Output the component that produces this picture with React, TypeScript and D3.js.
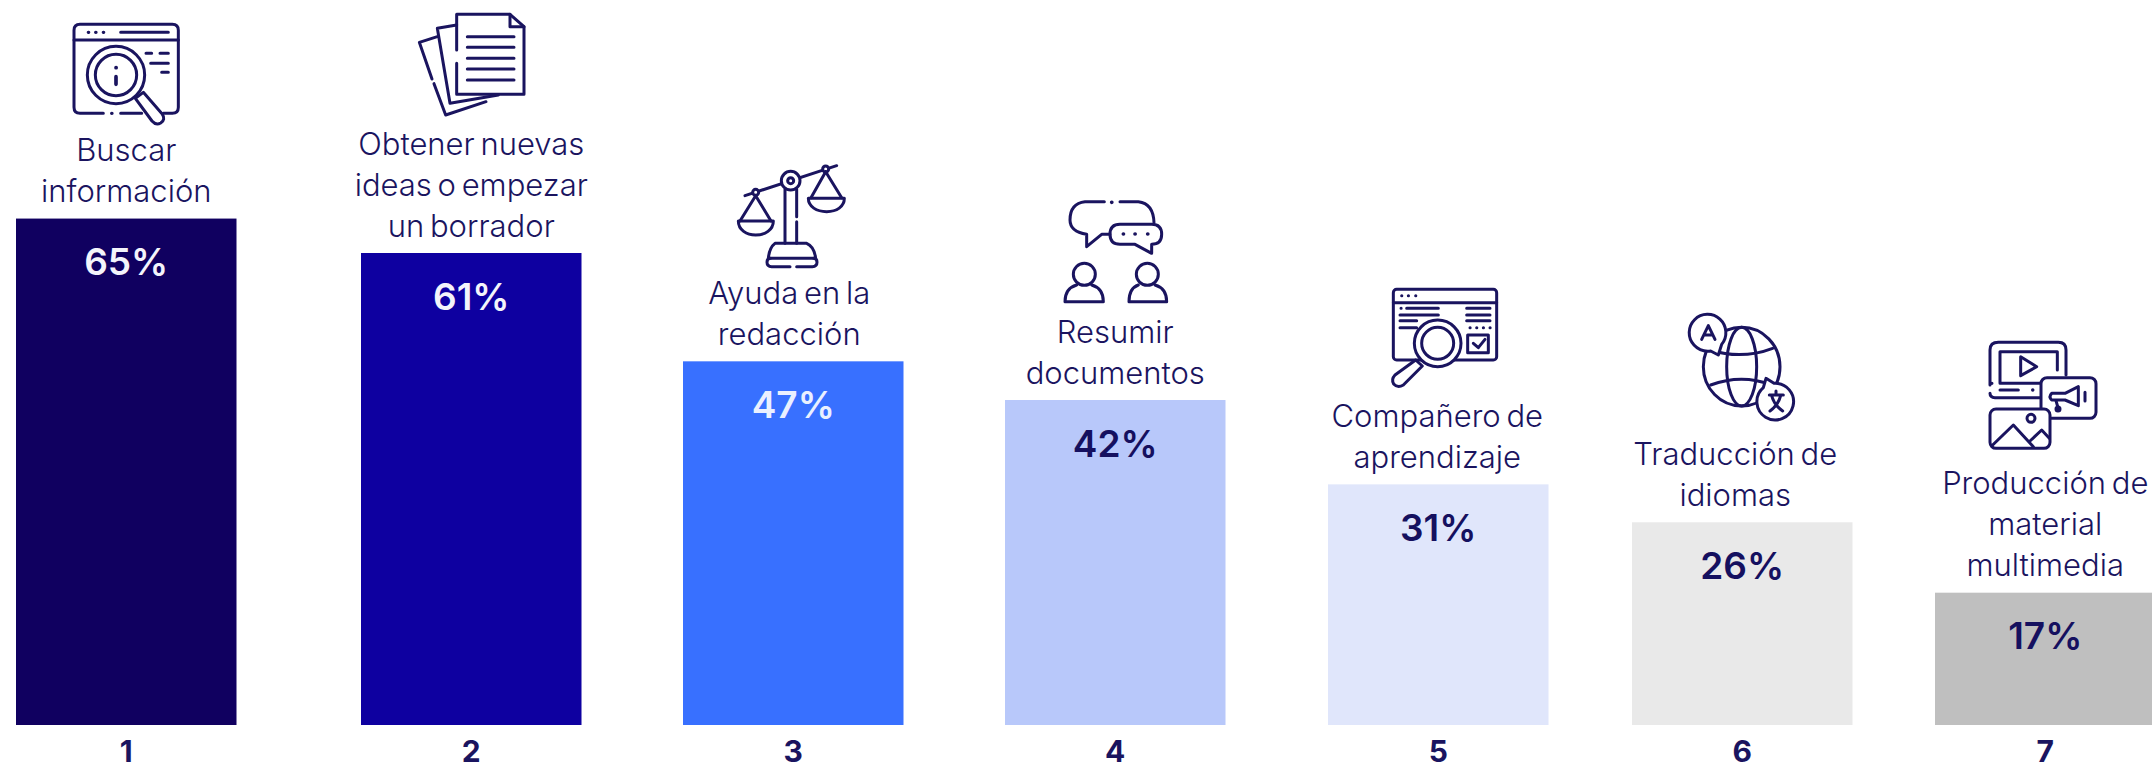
import React from "react";
import * as d3 from "d3";

const ranks = ["1", "2", "3", "4", "5", "6", "7"];
const valueLabels = ["65%", "61%", "47%", "42%", "31%", "26%", "17%"];
const barHeights = [65.45, 61, 47, 42, 31.1, 26.2, 17.1];
const labels = [
  ["Buscar", "información"],
  ["Obtener nuevas", "ideas o empezar", "un borrador"],
  ["Ayuda en la", "redacción"],
  ["Resumir", "documentos"],
  ["Compañero de", "aprendizaje"],
  ["Traducción de", "idiomas"],
  ["Producción de", "material", "multimedia"],
];
const barColors = ["#100060", "#0e00a0", "#3870ff", "#b8c8fa", "#e0e6fb", "#e9e9e9", "#bfbfbf"];
const valueColors = ["#f4f4fb", "#f4f4fb", "#eaf0ff", "#15105f", "#15105f", "#15105f", "#15105f"];

const INK = "#1a145f";
const FONT = "Inter, 'Noto Sans', sans-serif";
const barLeftPx = [16, 361, 683, 1005, 1328, 1632, 1935];
const labelShift = [0, 0, -4, 0, -1, -7, 0];
const BAR_W = 220.5;
const BASE = 725;
const y = d3.scaleLinear().domain([0, 61]).range([BASE, 253]);
const x = d3.scaleOrdinal<string, number>().domain(ranks).range(barLeftPx);

const common = {
  fill: "none",
  stroke: INK,
  strokeWidth: 9,
  strokeLinecap: "round" as const,
  strokeLinejoin: "round" as const,
};

function Icon1() {
  return (
    <g {...common}>
      <path d="M130,295 H60 Q42,295 42,277 V46 Q42,28 60,28 H337 Q355,28 355,46 V277 Q355,295 337,295 H310" />
      <path d="M182,295 H245 M42,75 H355 M182,52 H325 M258,115 H275 M300,115 H325 M272,145 H325 M305,172 H325" />
      <path d="M85,52 h1 M107,52 h1 M130,52 h1 M155,295 h1" strokeWidth={10} />
      <path d="M226,250 L250,232 L306,296 Q318,314 302,324 Q288,332 276,318 Z" fill="#fff" />
      <circle cx={168} cy={180} r={86} fill="#fff" />
      <circle cx={168} cy={180} r={62} />
      <path d="M168,158 h0.5 M168,185 V208" strokeWidth={11} />
    </g>
  );
}
function Icon2() {
  return (
    <g {...common}>
      <path d="M82,95 L28,112 L66,222 M72,236 L107,330 L228,290" />
      <path d="M140,60 L82,70 L120,295 L265,270" />
      <path d="M140,135 V28 H300 L342,65 V268 H140 V175" />
      <path d="M300,28 V65 H342 M172,95 H312 M172,127 H312 M172,160 H312 M172,192 H312 M172,225 H312" />
    </g>
  );
}
function Icon3() {
  return (
    <g {...common}>
      <path d="M60,122 L335,32" />
      <circle cx={92} cy={112} r={9} fill="#fff" />
      <circle cx={302} cy={42} r={9} fill="#fff" />
      <path d="M92,122 L45,198 M92,122 L138,198 M302,50 L258,128 M302,50 L350,128" />
      <path d="M40,198 H145 C145,225 120,240 92,240 C65,240 40,225 40,198 Z" />
      <path d="M250,130 H358 C358,155 335,170 305,170 C275,170 250,155 250,130 Z" />
      <path d="M180,103 V265 M215,103 V185 M215,200 V265" />
      <circle cx={197} cy={77} r={28} fill="#fff" />
      <circle cx={197} cy={77} r={9} />
      <path d="M150,265 H245 Q268,275 272,310 H130 Q133,278 150,265 Z" />
      <path d="M195,335 H140 Q126,335 126,322 Q126,310 136,310 M215,335 H262 Q276,335 276,322 Q276,310 266,310" />
    </g>
  );
}
function Icon4() {
  return (
    <g {...common}>
      <path d="M148,35 H90 Q45,40 45,90 Q45,125 95,133 V170 L140,133 H165 M195,35 H250 Q295,40 297,98" />
      <path d="M170,37 h0.5 M205,132 h0.5 M240,132 h0.5 M278,132 h0.5" strokeWidth={11} />
      <path d="M195,103 H290 Q320,103 320,133 Q320,163 290,163 V190 L240,163 H195 Q165,163 165,133 Q165,103 195,103 Z" />
      <circle cx={88} cy={253} r={33} />
      <path d="M65,285 Q30,295 30,335 H145 Q145,295 110,285" />
      <circle cx={277} cy={253} r={33} />
      <path d="M250,285 Q222,295 222,335 H335 Q335,295 300,285" />
    </g>
  );
}
function Icon5() {
  return (
    <g {...common}>
      <rect x={55} y={28} width={310} height={212} rx={10} />
      <path d="M55,68 H365 M95,85 H190 M75,105 H190 M75,122 H125 M75,143 H125 M275,85 H345 M275,105 H345 M275,122 H345" />
      <path d="M80,47 h0.5 M100,47 h0.5 M122,47 h0.5 M78,85 h0.5 M285,143 h0.5 M305,143 h0.5 M325,143 h0.5 M345,143 h0.5 M160,190 h0.5 M175,190 h0.5 M190,190 h0.5 M205,190 h0.5" strokeWidth={9} />
      <rect x={278} y={165} width={62} height={53} />
      <path d="M295,190 L310,203 L330,178" />
      <path d="M122,240 L142,258 L85,315 Q68,325 56,312 Q48,298 60,285 Z" fill="#fff" />
      <circle cx={188} cy={190} r={70} fill="#fff" />
      <circle cx={188} cy={190} r={48} />
    </g>
  );
}
function Icon6() {
  return (
    <g {...common}>
      <ellipse cx={215} cy={185} rx={115} ry={118} />
      <ellipse cx={215} cy={185} rx={45} ry={118} />
      <path d="M122,135 Q215,165 308,130 M122,240 Q215,205 305,240" />
      <path d="M72,120 A55,55 0 1 1 155,118 L145,150 L122,138 Q92,142 72,120 Z" fill="#fff" />
      <path d="M95,103 L115,62 L135,103 M102,90 H128" />
      <path d="M280,248 L288,220 L312,235 A55,55 0 1 1 280,248 Z" fill="#fff" />
      <path d="M298,270 H340 M318,258 V270 M332,272 Q325,300 300,318 M305,272 Q312,300 338,318" />
    </g>
  );
}
function Icon7() {
  return (
    <g {...common}>
      <path d="M30,150 V45 Q30,22 55,22 H235 Q258,22 258,45 V120 M30,175 Q30,188 45,188 H180" />
      <path d="M60,145 V50 H232 V105 M60,145 H180 M60,165 H115" />
      <path d="M35,145 h0.5 M158,165 h0.5" strokeWidth={10} />
      <path d="M122,65 L170,95 L122,122 Z" />
      <rect x={183} y={128} width={165} height={122} rx={18} fill="#fff" />
      <path d="M215,175 H255 L295,155 V212 L255,195 H215 Q205,185 215,175 Z" />
      <path d="M228,197 L235,222 M315,172 V198" />
      <circle cx={234} cy={222} r={6} />
      <rect x={30} y={222} width={180} height={118} rx={18} fill="#fff" />
      <circle cx={153} cy={250} r={12} />
      <path d="M38,330 L100,270 L160,335 M150,318 L185,285 L208,310" />
    </g>
  );
}

const icons = [Icon1, Icon2, Icon3, Icon4, Icon5, Icon6, Icon7];
const iconOrigins = [
  [60, 15],
  [410, 5],
  [725, 155],
  [1055, 190],
  [1375, 280],
  [1670, 305],
  [1980, 335],
];

export default function App() {
  return (
    <svg
      width={2152}
      height={769}
      viewBox="0 0 2152 769"
      style={{ position: "absolute", left: 0, top: 0, display: "block", background: "#fff" }}
      fontFamily={FONT}
    >
      {ranks.map((r, i) => {
        const left = x(r);
        const top = y(barHeights[i]);
        const cx = left + BAR_W / 2;
        const lines = labels[i];
        const Icon = icons[i];
        return (
          <g key={r}>
            <rect x={left} y={top} width={BAR_W} height={BASE - top} fill={barColors[i]} />
            <text x={cx} y={top + 56.5} textAnchor="middle" fontSize={37} fontWeight={600} fill={valueColors[i]}>
              {valueLabels[i]}
            </text>
            {lines.map((line, j) => (
              <text
                key={j}
                x={cx + labelShift[i]}
                y={top - 16.5 - (lines.length - 1 - j) * 41}
                textAnchor="middle"
                fontSize={31}
                fontWeight={300}
                wordSpacing={-3}
                fill={INK}
              >
                {line}
              </text>
            ))}
            <text x={cx} y={761.5} textAnchor="middle" fontSize={30} fontWeight={700} fill={INK}>
              {r}
            </text>
            <g transform={`translate(${iconOrigins[i][0]},${iconOrigins[i][1]}) scale(${1 / 3})`}>
              <Icon />
            </g>
          </g>
        );
      })}
    </svg>
  );
}
